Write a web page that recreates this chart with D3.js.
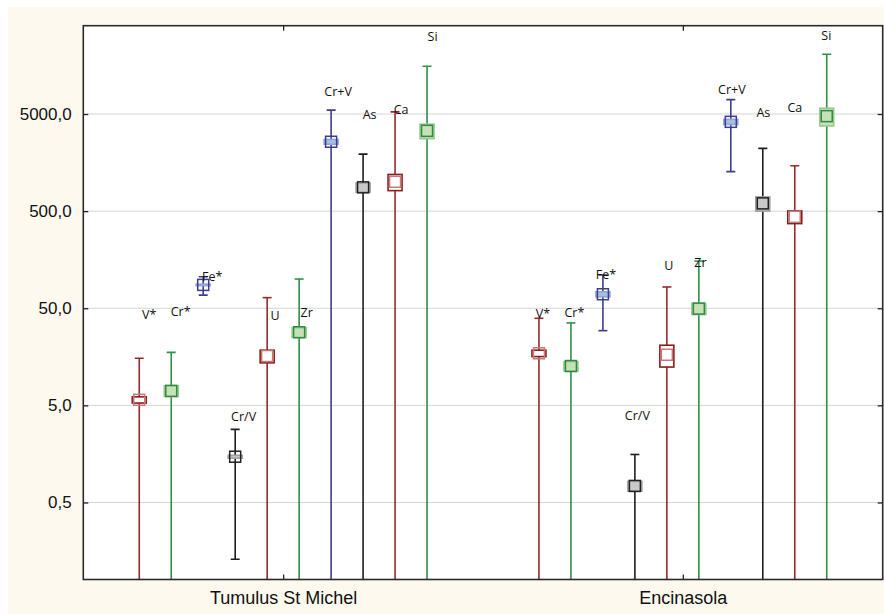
<!DOCTYPE html>
<html>
<head>
<meta charset="utf-8">
<script src="https://cdn.jsdelivr.net/npm/d3@7"></script>
<style>
  html, body { margin: 0; padding: 0; background: #ffffff; }
  svg { display: block; }
</style>
</head>
<body>
<svg id="chart" width="884" height="614"></svg>
<script>
// ---------------- data ----------------
const groups = ["Tumulus St Michel", "Encinasola"];
const elements = ["V*", "Cr*", "Fe*", "Cr/V", "U", "Zr", "Cr+V", "As", "Ca", "Si"];
const yTickValues = [0.5, 5, 50, 500, 5000];

// means, standard deviations (whiskers) and standard errors (boxes)
const meanTumulus = [5.7, 7.05, 87, 1.48, 16.1, 28.3, 2590, 879, 1003, 3357];
const sdTumulus   = [9.6, 10.5, 18.7, 1.35, 48.2, 71.7, 2890, 1053, 4262, 12193];
const seTumulus   = [0.42, 0.9, 1.5, 0.05, 2.4, 3.2, 145, 95, 190, 570];

const meanEncinasola = [17.2, 12.7, 69.7, 0.74, 16.6, 49.6, 4155, 601, 437, 4755];
const sdEncinasola   = [22.2, 22.6, 40.3, 0.82, 66.2, 103.4, 2880, 1612, 1029, 15895];
const seEncinasola   = [1.3, 1.4, 4.2, 0.085, 4.2, 6.6, 255, 100, 65, 990];

// annotation anchors (in data units)
const labelTumulus    = [42.7, 45.8, 105.7, 3.84, 42.0, 45.1, 8600, 4990, 5615, 31640];
const labelEncinasola = [44.0, 45.4, 110, 3.93, 139.4, 147.2, 8953, 5143, 5790, 32180];

// ---------------- styles ----------------
const family = ["red", "green", "navy", "black", "red", "green", "navy", "black", "red", "green"];
const styles = {
  red:   { line: "#922b2b", boxFill: "#ffffff", boxStroke: "#8b1c1c", mark: "#c47a7a" },
  green: { line: "#2e9148", boxFill: "#c6e1b6", boxStroke: "#9cc98f", mark: "#2e8b45" },
  navy:  { line: "#3d3d8e", boxFill: "#a7bfe0", boxStroke: "#8fa6d6", mark: "#3d3d8e" },
  black: { line: "#1e1e1e", boxFill: "#c9c9c9", boxStroke: "#a0a0a0", mark: "#202020" }
};

// ---------------- layout ----------------
const svg = d3.select("#chart");
const W = 884, H = 614;
const plot = { left: 83.3, right: 882.7, top: 25.7, bottom: 579.5 };
const slot = 0.08;

svg.append("rect").attr("x", 8).attr("y", 7).attr("width", W - 8).attr("height", H - 7)
  .attr("fill", "#fdf9ee");
svg.append("rect").attr("x", plot.left).attr("y", plot.top)
  .attr("width", plot.right - plot.left).attr("height", plot.bottom - plot.top)
  .attr("fill", "#ffffff");

const x = d3.scaleLinear().domain([0.5, 2.5]).range([plot.left, plot.right]);
const labelX = d3.scaleLinear().domain([0.5, 2.5]).range([94, 881.5]);
const y = d3.scaleLog().domain([0.0805, 40600]).range([plot.bottom, plot.top]);

// gridlines
svg.append("g").selectAll("line").data(yTickValues).join("line")
  .attr("x1", plot.left).attr("x2", plot.right)
  .attr("y1", d => y(d)).attr("y2", d => y(d))
  .attr("stroke", "#d4d4d4").attr("stroke-width", 1);

// build records
const records = [];
const series = [
  { mean: meanTumulus, sd: sdTumulus, se: seTumulus, lab: labelTumulus },
  { mean: meanEncinasola, sd: sdEncinasola, se: seEncinasola, lab: labelEncinasola }
];
series.forEach((s, g) => {
  elements.forEach((el, i) => {
    records.push({
      group: g, el, i,
      pos: g + 1 + (i - 4.5) * slot,
      mean: s.mean[i], sd: s.sd[i], se: s.se[i], lab: s.lab[i],
      st: styles[family[i]]
    });
  });
});

const clamp = v => (v <= y.domain()[0] ? plot.bottom : Math.max(plot.top, y(v)));

svg.append("clipPath").attr("id", "clip").append("rect")
  .attr("x", plot.left).attr("y", plot.top)
  .attr("width", plot.right - plot.left).attr("height", plot.bottom - plot.top);

const marks = svg.append("g").attr("clip-path", "url(#clip)");

const cap = 4.5, boxW = 14, markS = 11;
const item = marks.selectAll("g.item").data(records).join("g").attr("class", "item");

// whisker
item.append("line")
  .attr("x1", d => x(d.pos)).attr("x2", d => x(d.pos))
  .attr("y1", d => clamp(d.mean + d.sd))
  .attr("y2", d => clamp(d.mean - d.sd))
  .attr("stroke", d => d.st.line).attr("stroke-width", 1.6);
// top cap
item.append("line")
  .attr("x1", d => x(d.pos) - cap).attr("x2", d => x(d.pos) + cap)
  .attr("y1", d => y(d.mean + d.sd)).attr("y2", d => y(d.mean + d.sd))
  .attr("stroke", d => d.st.line).attr("stroke-width", 1.6);
// bottom cap (only if visible)
item.filter(d => d.mean - d.sd > y.domain()[0]).append("line")
  .attr("x1", d => x(d.pos) - cap).attr("x2", d => x(d.pos) + cap)
  .attr("y1", d => y(d.mean - d.sd)).attr("y2", d => y(d.mean - d.sd))
  .attr("stroke", d => d.st.line).attr("stroke-width", 1.6);
// box mean ± SE
item.append("rect")
  .attr("x", d => x(d.pos) - boxW / 2)
  .attr("y", d => y(d.mean + d.se))
  .attr("width", boxW)
  .attr("height", d => y(d.mean - d.se) - y(d.mean + d.se))
  .attr("fill", d => d.st.boxFill)
  .attr("stroke", d => d.st.boxStroke).attr("stroke-width", 1.6);
// mean marker
item.append("rect")
  .attr("x", d => x(d.pos) - markS / 2)
  .attr("y", d => y(d.mean) - markS / 2)
  .attr("width", markS).attr("height", markS)
  .attr("fill", "none")
  .attr("stroke", d => d.st.mark).attr("stroke-width", 1.5);

// element labels
svg.append("g").selectAll("text").data(records).join("text")
  .attr("x", d => labelX(d.pos))
  .attr("y", d => y(d.lab))
  .attr("dy", "0.36em")
  .attr("text-anchor", "middle")
  .attr("font-family", "'Open Sans', sans-serif")
  .attr("font-size", 12.5)
  .attr("fill", "#111")
  .text(d => d.el);

// axes
const fmt = d => d3.format(".1f")(d).replace(".", ",");
const axisFont = "'Liberation Sans', Arial, sans-serif";

const gl = svg.append("g").attr("transform", `translate(${plot.left},0)`)
  .call(d3.axisLeft(y).tickValues(yTickValues).tickFormat(fmt).tickSize(-5).tickPadding(11.6));
const gr = svg.append("g").attr("transform", `translate(${plot.right},0)`)
  .call(d3.axisRight(y).tickValues(yTickValues).tickFormat("").tickSize(-5));
const gb = svg.append("g").attr("transform", `translate(0,${plot.bottom})`)
  .call(d3.axisBottom(x).tickValues([1, 2]).tickFormat(d => groups[d - 1]).tickSize(-5).tickPadding(12));
const gt = svg.append("g").attr("transform", `translate(0,${plot.top})`)
  .call(d3.axisTop(x).tickValues([1, 2]).tickFormat("").tickSize(-5));

[gl, gr, gb, gt].forEach(g => {
  g.select(".domain").remove();
  g.selectAll(".tick line").attr("stroke", "#222").attr("stroke-width", 1.3);
  g.selectAll(".tick text").attr("font-family", axisFont).attr("fill", "#111");
});
gl.selectAll(".tick text").attr("font-size", 17);
gb.selectAll(".tick text").attr("font-size", 18);

// frame
svg.append("rect").attr("x", plot.left).attr("y", plot.top)
  .attr("width", plot.right - plot.left).attr("height", plot.bottom - plot.top)
  .attr("fill", "none").attr("stroke", "#2a2a2a").attr("stroke-width", 1.6);
</script>
</body>
</html>
